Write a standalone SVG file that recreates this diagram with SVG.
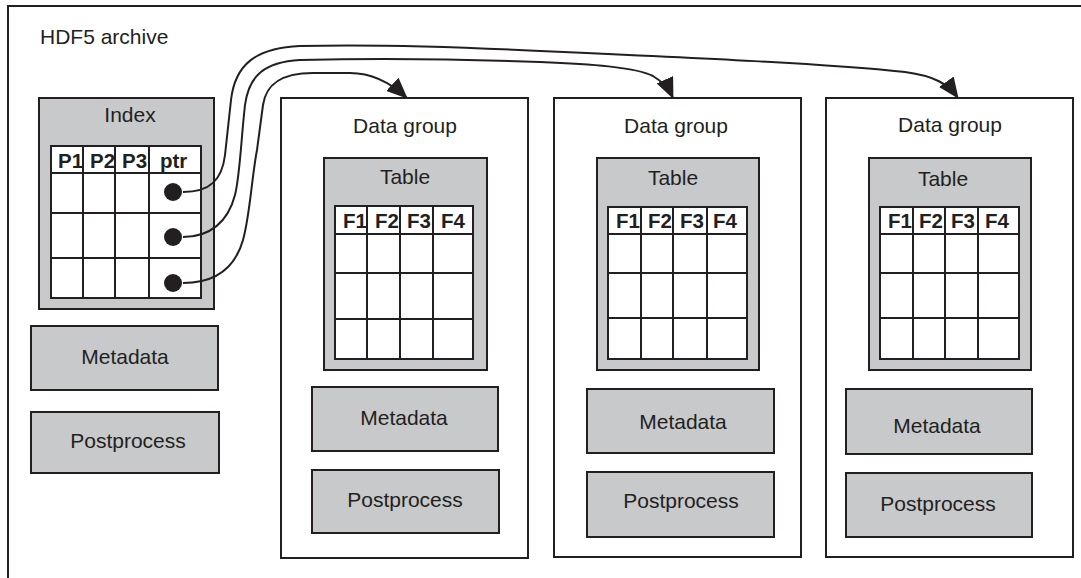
<svg xmlns="http://www.w3.org/2000/svg" width="1081" height="578" viewBox="0 0 1081 578">
<defs>
<style>
.frame{fill:#ffffff;stroke:#231f20;stroke-width:2}
.gray{fill:#c8c9cb;stroke:#231f20;stroke-width:2}
.cell{fill:#ffffff;stroke:#231f20;stroke-width:2}
.grid{stroke:#231f20;stroke-width:2;fill:none}
.lbl{font-family:"Liberation Sans",Arial,sans-serif;font-size:21px;fill:#231f20;text-anchor:middle}
.hdr{font-family:"Liberation Sans",Arial,sans-serif;font-size:20.5px;font-weight:bold;fill:#231f20}
.link{fill:none;stroke:#231f20;stroke-width:2}
.dot{fill:#231f20}
</style>
<marker id="arr" markerUnits="userSpaceOnUse" markerWidth="21" markerHeight="18" refX="20" refY="9" orient="auto" viewBox="0 0 21 18">
<path d="M0,0 L21,9 L0,18 z" fill="#231f20"/>
</marker>
</defs>
<rect width="1081" height="578" fill="#ffffff"/>

<g id="archive">
<rect class="frame" x="8" y="6" width="1100" height="600"/>
<text class="lbl" x="40" y="44" style="text-anchor:start">HDF5 archive</text>
</g>

<g id="index">
<rect class="gray" x="39" y="98" width="175" height="211"/>
<text class="lbl" x="130" y="122">Index</text>
<rect class="cell" x="51" y="146" width="150" height="152"/>
<path class="grid" d="M51,173H201M51,213H201M51,258H201M83,146V298M115,146V298M149,146V298"/>
<text class="hdr" x="58" y="168">P1</text>
<text class="hdr" x="90" y="168">P2</text>
<text class="hdr" x="122" y="168">P3</text>
<text class="hdr" x="160" y="168">ptr</text>
<circle class="dot" cx="173" cy="192" r="9"/>
<circle class="dot" cx="173" cy="237" r="9"/>
<circle class="dot" cx="173" cy="283" r="9"/>
</g>

<g id="metadata-left">
<rect class="gray" x="31" y="326" width="187" height="64"/>
<text class="lbl" x="125" y="364">Metadata</text>
</g>
<g id="postprocess-left">
<rect class="gray" x="31" y="412" width="188" height="61"/>
<text class="lbl" x="128" y="448">Postprocess</text>
</g>

<g id="datagroup1">
<rect class="frame" x="281" y="98" width="247" height="460"/>
<text class="lbl" x="405" y="133">Data group</text>
<rect class="gray" x="324" y="158" width="163" height="212"/>
<text class="lbl" x="405" y="184">Table</text>
<rect class="cell" x="335" y="206" width="138" height="153"/>
<path class="grid" d="M335,234H473M335,273H473M335,319H473M367,206V359M400,206V359M433,206V359"/>
<text class="hdr" x="343" y="228">F1</text>
<text class="hdr" x="375" y="228">F2</text>
<text class="hdr" x="407" y="228">F3</text>
<text class="hdr" x="441" y="228">F4</text>
<rect class="gray" x="312" y="387" width="186" height="64"/>
<text class="lbl" x="404" y="425">Metadata</text>
<rect class="gray" x="312" y="470" width="187" height="63"/>
<text class="lbl" x="405" y="507">Postprocess</text>
</g>

<g id="datagroup2">
<rect class="frame" x="554" y="98" width="247" height="459"/>
<text class="lbl" x="676" y="133">Data group</text>
<rect class="gray" x="597" y="158" width="162" height="212"/>
<text class="lbl" x="673" y="185">Table</text>
<rect class="cell" x="608" y="207" width="139" height="152"/>
<path class="grid" d="M608,234H747M608,273H747M608,318H747M641,207V359M673,207V359M707,207V359"/>
<text class="hdr" x="616" y="228">F1</text>
<text class="hdr" x="648" y="228">F2</text>
<text class="hdr" x="680" y="228">F3</text>
<text class="hdr" x="713" y="228">F4</text>
<rect class="gray" x="587" y="389" width="187" height="64"/>
<text class="lbl" x="683" y="429">Metadata</text>
<rect class="gray" x="587" y="472" width="187" height="65"/>
<text class="lbl" x="681" y="508">Postprocess</text>
</g>

<g id="datagroup3">
<rect class="frame" x="826" y="98" width="247" height="459"/>
<text class="lbl" x="950" y="132">Data group</text>
<rect class="gray" x="869" y="158" width="162" height="212"/>
<text class="lbl" x="943" y="186">Table</text>
<rect class="cell" x="880" y="207" width="139" height="152"/>
<path class="grid" d="M880,234H1019M880,273H1019M880,318H1019M913,207V359M945,207V359M978,207V359"/>
<text class="hdr" x="888" y="228">F1</text>
<text class="hdr" x="919" y="228">F2</text>
<text class="hdr" x="951" y="228">F3</text>
<text class="hdr" x="985" y="228">F4</text>
<rect class="gray" x="846" y="389" width="186" height="65"/>
<text class="lbl" x="937" y="433">Metadata</text>
<rect class="gray" x="846" y="473" width="186" height="64"/>
<text class="lbl" x="938" y="511">Postprocess</text>
</g>

<g id="connectors">
<path class="link" marker-end="url(#arr)" d="M183,192 C210,192 222,180 225,155 L231,100 C235,65 255,48 300,46 C380,44 460,47 540,51 C700,58 830,64 905,72 C935,76 948,84 958,98"/>
<path class="link" marker-end="url(#arr)" d="M183,237 C210,237 228,222 235,195 C240,175 241,140 245,105 C249,75 265,62 300,60 C380,58 460,59 540,62 C590,64 635,67 653,76 C663,82 669,89 673,98"/>
<path class="link" marker-end="url(#arr)" d="M183,283 C215,283 235,268 243,240 C250,215 252,175 257,150 L263,105 C266,85 280,73 313,73 L350,73 C372,73 392,84 407,98"/>
</g>
</svg>
